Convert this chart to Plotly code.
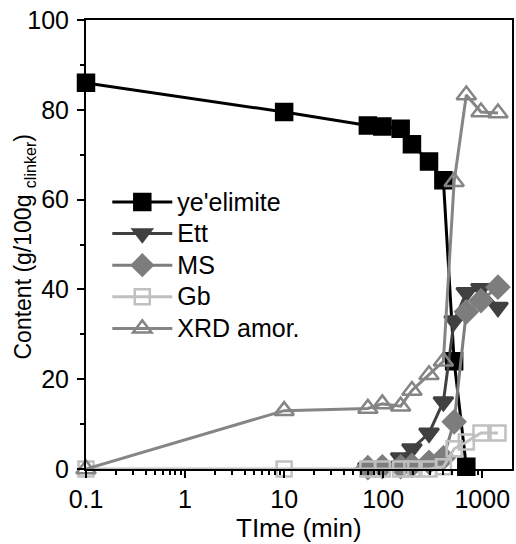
import plotly.graph_objects as go

# Hydration time (min) for each sampling point
time_min = [0.1, 10, 70, 98, 150, 195, 290, 405, 520, 690, 970, 1440]

# Phase contents (g/100g clinker); None where a phase was not quantified
yeelimite = [86, 79.5, 76.5, 76.3, 75.8, 72.3, 68.5, 64.3, 24, 0.5, None, None]
ett = [None, None, 0.3, 0.5, 2.5, 4.5, 8, 15, 33, 39.3, 40.2, 36]
ms = [None, None, 0.3, 0.5, 0.5, 0.8, 1.5, 2.5, 10.5, 35, 37.5, 40.5]
gb = [0, 0, 0, 0, 0, 0, 0, 0.5, 4.5, 6, 8, 8]
xrd_amor = [0, 13, 13.5, 14.5, 14, 17.5, 21, 24, 64, 83.3, 79.5, 79.3]

series = [
    ("ye'elimite", yeelimite, "#000000", "square", 16),
    ("Ett", ett, "#404040", "triangle-down", 17),
    ("MS", ms, "#7d7d7d", "diamond", 17),
    ("Gb", gb, "#c0c0c0", "square-open", 15),
    ("XRD amor.", xrd_amor, "#858585", "triangle-up-open", 17),
]

fig = go.Figure()
for name, vals, color, symbol, size in series:
    pts = [(t, v) for t, v in zip(time_min, vals) if v is not None]
    fig.add_trace(go.Scatter(
        x=[p[0] for p in pts],
        y=[p[1] for p in pts],
        # legend rows stay compact while the label text is drawn a bit larger
        name=f"<span style='font-size:25px'>{name}</span>",
        mode="lines+markers",
        line=dict(color=color, width=3),
        marker=dict(symbol=symbol, size=size, color=color,
                    line=dict(color=color, width=2.5)),
        cliponaxis=False,
    ))

font_family = "Liberation Sans, Arial, sans-serif"

minor_x = [m * 10 ** e for e in range(-1, 4) for m in range(2, 10) if m * 10 ** e < 2000]

fig.update_layout(
    width=516, height=544,
    margin=dict(l=86, r=2, t=20, b=75),
    plot_bgcolor="white", paper_bgcolor="white",
    font=dict(family=font_family, size=25, color="black"),
    showlegend=True,
    legend=dict(
        x=0.05, y=0.641, xanchor="left", yanchor="top",
        bgcolor="rgba(0,0,0,0)", borderwidth=0,
        font=dict(size=22, family=font_family, color="black"),
        itemwidth=60,
    ),
    xaxis=dict(
        type="log", range=[-1, 3.3],
        tickvals=[0.1, 1, 10, 100, 1000],
        ticktext=["0.1", "1", "10", "100", "1000"],
        tickfont=dict(size=25),
        ticks="outside", ticklen=7, tickwidth=2, tickcolor="black",
        showline=True, linecolor="black", linewidth=2, mirror=True,
        showgrid=False, zeroline=False,
        minor=dict(tickmode="array", tickvals=minor_x, ticks="outside",
                   ticklen=4, tickwidth=2, tickcolor="black", showgrid=False),
    ),
    yaxis=dict(
        range=[0, 100],
        tickvals=[0, 20, 40, 60, 80, 100],
        tickfont=dict(size=25),
        ticks="outside", ticklen=7, tickwidth=2, tickcolor="black",
        ticklabelstandoff=3,
        showline=True, linecolor="black", linewidth=2, mirror=True,
        showgrid=False, zeroline=False,
        minor=dict(tickvals=[10, 30, 50, 70, 90], ticks="outside",
                   ticklen=4, tickwidth=2, tickcolor="black", showgrid=False),
    ),
    annotations=[
        dict(text="TIme (min)", xref="paper", yref="paper",
             x=0.5, y=-0.132, xanchor="center", yanchor="middle",
             showarrow=False, font=dict(size=26)),
        dict(text="Content (g/100g <sub>clinker</sub>)", xref="paper", yref="paper",
             x=-0.145, y=0.496, xanchor="center", yanchor="middle",
             textangle=-90, showarrow=False, font=dict(size=23)),
    ],
)

fig.write_html("out.html")
